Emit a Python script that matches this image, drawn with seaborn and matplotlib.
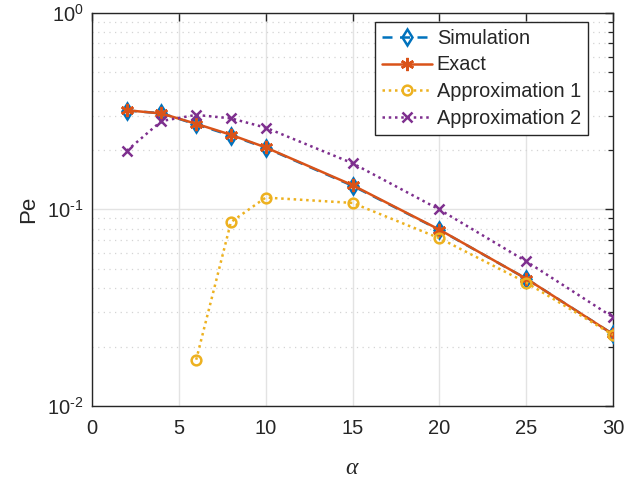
import numpy as np
import pandas as pd
import matplotlib
matplotlib.use("Agg")
import matplotlib.pyplot as plt
import seaborn as sns
from matplotlib.ticker import LogLocator, NullFormatter, FixedLocator, FixedFormatter

# ---- data ----
alpha = [2, 4, 6, 8, 10, 15, 20, 25, 30]
sim = [0.319, 0.309, 0.271, 0.238, 0.206, 0.132, 0.0788, 0.0445, 0.0232]
exact = [0.320, 0.308, 0.273, 0.240, 0.207, 0.133, 0.0790, 0.0445, 0.0232]
alpha_a1 = [6, 8, 10, 15, 20, 25, 30]
approx1 = [0.0172, 0.0863, 0.115, 0.108, 0.0715, 0.0425, 0.0230]
approx2 = [0.199, 0.282, 0.303, 0.291, 0.261, 0.172, 0.100, 0.0545, 0.0283]

x_ticks = [0, 5, 10, 15, 20, 25, 30]
y_ticks = [1e-2, 1e-1, 1e0]
y_ticklabels = [r"$10^{\text{-2}}$", r"$10^{\text{-1}}$", r"$10^{0}$"]

labels = ["Simulation", "Exact", "Approximation 1", "Approximation 2"]
colors = ["#0072BD", "#D95319", "#EDB120", "#7E2F8E"]

sns.set_style("white")
plt.rcParams["font.family"] = ["Liberation Sans", "DejaVu Sans"]
plt.rcParams["mathtext.fontset"] = "custom"
plt.rcParams["mathtext.rm"] = "Liberation Sans"
plt.rcParams["mathtext.it"] = "Liberation Serif:italic"

fig = plt.figure(figsize=(6.39, 4.78), dpi=100)
ax = fig.add_axes([92 / 639, (478 - 406) / 478, (613 - 92) / 639, (406 - 13) / 478])

df_sim = pd.DataFrame({"alpha": alpha, "Pe": sim})
df_ex = pd.DataFrame({"alpha": alpha, "Pe": exact})
df_a1 = pd.DataFrame({"alpha": alpha_a1, "Pe": approx1})
df_a2 = pd.DataFrame({"alpha": alpha, "Pe": approx2})

lw = 1.8
sns.lineplot(data=df_sim, x="alpha", y="Pe", ax=ax, color=colors[0], lw=lw,
             linestyle=(0, (4, 3)), marker="d", markersize=8, markerfacecolor="none",
             markeredgecolor=colors[0], markeredgewidth=1.8, label=labels[0], zorder=3)
sns.lineplot(data=df_ex, x="alpha", y="Pe", ax=ax, color=colors[1], lw=lw,
             linestyle="-", marker=(6, 2, 0), markersize=9.5,
             markeredgecolor=colors[1], markeredgewidth=1.8, label=labels[1], zorder=4)
sns.lineplot(data=df_a1, x="alpha", y="Pe", ax=ax, color=colors[2], lw=lw,
             linestyle=(0, (1, 1.5)), marker="o", markersize=7, markerfacecolor="none",
             markeredgecolor=colors[2], markeredgewidth=1.8, label=labels[2], zorder=5)
sns.lineplot(data=df_a2, x="alpha", y="Pe", ax=ax, color=colors[3], lw=lw,
             linestyle=(0, (1, 1.5)), marker="x", markersize=7.5,
             markeredgecolor=colors[3], markeredgewidth=1.8, label=labels[3], zorder=5)

ax.set_yscale("log")
ax.set_xlim(0, 30)
ax.set_ylim(1e-2, 1)
ax.set_xticks(x_ticks)
ax.yaxis.set_major_locator(FixedLocator(y_ticks))
ax.yaxis.set_major_formatter(FixedFormatter(y_ticklabels))
ax.yaxis.set_minor_locator(LogLocator(base=10, subs=np.arange(2, 10), numticks=20))
ax.yaxis.set_minor_formatter(NullFormatter())

ax.grid(True, which="major", axis="both", color="#e3e3e3", lw=1.0, zorder=0)
ax.grid(True, which="minor", axis="y", color="#d4d4d4", lw=0.9, linestyle=(0, (1, 3.5)), zorder=0)
ax.set_axisbelow(True)

for s in ax.spines.values():
    s.set_visible(True)
    s.set_color("#262626")
    s.set_linewidth(1.0)

ax.tick_params(axis="both", which="both", direction="in", top=True, right=True,
               labelsize=14.5, colors="#262626", labelcolor="#262626")
ax.tick_params(axis="x", which="major", length=6, width=1.0, pad=9)
ax.tick_params(axis="y", which="major", length=6, width=1.0, pad=6)
ax.tick_params(axis="y", which="minor", length=3.5, width=0.9)

ax.set_xlabel(r"$\alpha$", fontsize=17, color="#262626", labelpad=14)
ax.set_ylabel("Pe", fontsize=16, color="#262626", labelpad=6)

leg = ax.legend(loc="upper right", bbox_to_anchor=((588 - 92) / 521, 1 - (22 - 13) / 393),
                borderaxespad=0, fontsize=14.3, frameon=True, fancybox=False,
                edgecolor="#262626", framealpha=1, handlelength=2.5, handletextpad=0.25,
                borderpad=0.35, labelspacing=0.38)
leg.get_frame().set_linewidth(1.0)

fig.savefig("out.png", dpi=100)
